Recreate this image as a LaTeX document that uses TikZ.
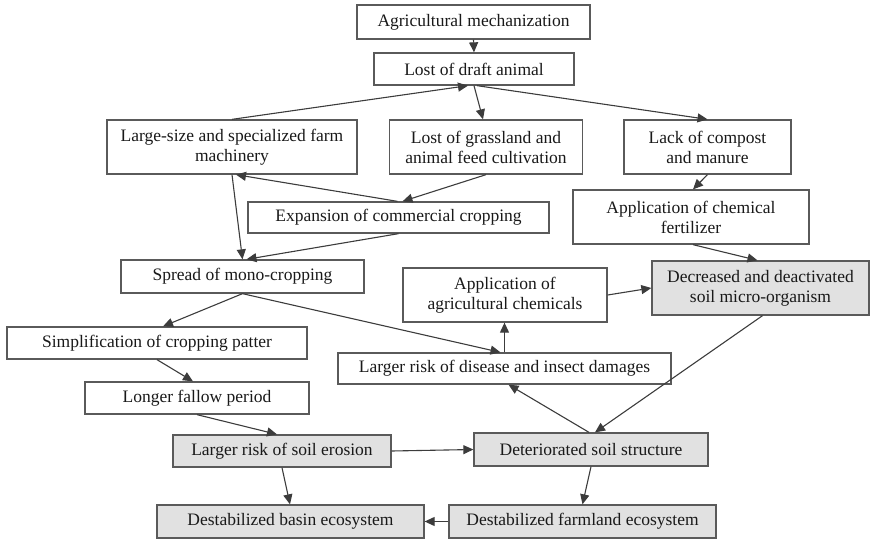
\documentclass[tikz,border=0pt]{standalone}
\usepackage{fontspec}
\setmainfont{Liberation Serif}
\usetikzlibrary{arrows.meta}
\definecolor{edgec}{HTML}{3C3C3C}
\definecolor{boxedge}{HTML}{5A5A5A}
\definecolor{boxfill}{HTML}{E1E1E1}
\tikzset{
  box/.style={draw=boxedge, line width=1.3pt, align=center, inner sep=0pt,
    font=\fontsize{17.5}{20}\selectfont, text=black!90},
  shaded/.style={box, fill=boxfill},
  conn/.style={draw=edgec, line width=1.1pt, -{Triangle[length=10pt,width=9pt]}}
}
\begin{document}
\begin{tikzpicture}[x=1pt,y=-1pt]
\useasboundingbox (0,0) rectangle (871,541);
\node[box, minimum width=233pt, minimum height=34pt] (a1) at (473.5,22) {Agricultural mechanization};
\node[box, minimum width=200pt, minimum height=32pt] (a2) at (474,69) {Lost of draft animal};
\node[box, minimum width=250pt, minimum height=54pt] (a3) at (232,147) {Large-size and specialized farm\\machinery};
\node[box, minimum width=193pt, minimum height=54pt] (a4) at (486,147) {Lost of grassland and\\animal feed cultivation};
\node[box, minimum width=167pt, minimum height=54pt] (a5) at (707.5,147) {Lack of compost\\and manure};
\node[box, minimum width=301pt, minimum height=31pt] (a6) at (398.5,217.5) {Expansion of commercial cropping};
\node[box, minimum width=236pt, minimum height=54pt] (a7) at (691,217) {Application of chemical\\fertilizer};
\node[box, minimum width=243pt, minimum height=33pt] (a8) at (242.5,276.5) {Spread of mono-cropping};
\node[box, minimum width=204pt, minimum height=54pt] (a9) at (505,295) {Application of\\agricultural chemicals};
\node[shaded, minimum width=217pt, minimum height=54pt] (a10) at (760.5,288) {Decreased and deactivated\\soil micro-organism};
\node[box, minimum width=300pt, minimum height=32pt] (a11) at (157,343) {Simplification of cropping patter};
\node[box, minimum width=333pt, minimum height=31pt] (a12) at (504.5,368.5) {Larger risk of disease and insect damages};
\node[box, minimum width=224pt, minimum height=32pt] (a13) at (197,398) {Longer fallow period};
\node[shaded, minimum width=218pt, minimum height=32pt] (a14) at (282,451) {Larger risk of soil erosion};
\node[shaded, minimum width=234pt, minimum height=33pt] (a15) at (591,449.5) {Deteriorated soil structure};
\node[shaded, minimum width=267pt, minimum height=33pt] (a16) at (290.5,521.5) {Destabilized basin ecosystem};
\node[shaded, minimum width=267pt, minimum height=33pt] (a17) at (582.5,521.5) {Destabilized farmland ecosystem};

\draw[conn] (a1.south) -- (a2.north);
\draw[conn] (a3.north) -- ([xshift=-6pt]a2.south);
\draw[conn] (a2.south) -- ([xshift=-3pt]a4.north);
\draw[conn] ([xshift=3pt]a2.south) -- (a5.north);
\draw[conn] ([xshift=-1pt]a6.north) -- ([xshift=4pt]a3.south);
\draw[conn] (a4.south) -- ([xshift=4pt]a6.north);
\draw[conn] (a3.south) -- (a8.north);
\draw[conn] (a6.south) -- ([xshift=4pt]a8.north);
\draw[conn] (a5.south) -- ([xshift=2pt]a7.north);
\draw[conn] ([xshift=2pt]a7.south) -- ([xshift=-3pt]a10.north);
\draw[conn] (a9.east) -- (a10.west);
\draw[conn] (a8.south) -- ([xshift=6pt]a11.north);
\draw[conn] (a8.south) -- ([xshift=-4pt]a12.north);
\draw[conn] (a12.north) -- (a12.north |- a9.south);
\draw[conn] (a11.south) -- ([xshift=-4pt]a13.north);
\draw[conn] (a13.south) -- ([xshift=-5pt]a14.north);
\draw[conn] (a14.east) -- (a15.west);
\draw[conn] (a14.south) -- ([xshift=8pt]a14.south |- a16.north);
\draw[conn] ([xshift=-2pt]a15.north) -- ([xshift=4pt]a12.south);
\draw[conn] ([xshift=2pt]a10.south) -- ([xshift=4pt]a15.north);
\draw[conn] (a15.south) -- (a17.north);
\draw[conn] (a17.west) -- (a16.east);
\end{tikzpicture}
\end{document}
